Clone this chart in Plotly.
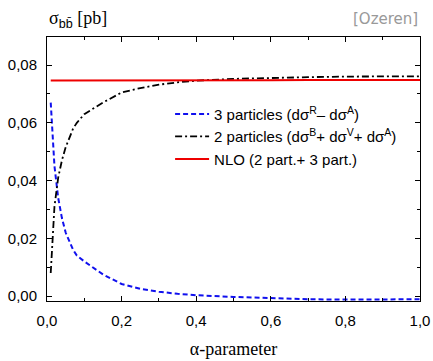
import plotly.graph_objects as go

alpha = [0.01, 0.015, 0.02, 0.03, 0.04, 0.05, 0.06, 0.07, 0.08, 0.1, 0.15, 0.2, 0.25, 0.3,
         0.35, 0.4, 0.5, 0.6, 0.7, 0.8, 0.9, 1.0]
three_part = [0.067, 0.055, 0.045, 0.034, 0.027, 0.022, 0.019, 0.016, 0.014, 0.012, 0.0075,
              0.0042, 0.0025, 0.0015, 0.0008, 0.0003, -0.0003, -0.0008, -0.0011, -0.0012,
              -0.0012, -0.0011]
two_part = [0.008, 0.022, 0.031, 0.041, 0.047, 0.0515, 0.055, 0.058, 0.060, 0.063, 0.067,
            0.0705, 0.072, 0.0732, 0.0740, 0.0746, 0.0752, 0.0756, 0.0758, 0.0760, 0.0760,
            0.0761]
nlo = [0.0746, 0.0746, 0.0747, 0.0745, 0.0747, 0.0746, 0.0745, 0.0747, 0.0746, 0.0746, 0.0746,
       0.0746, 0.0746, 0.0746, 0.0747, 0.0747, 0.0747, 0.0747, 0.0748, 0.0748, 0.0748, 0.0748]

names = ["3 particles (dσ<sup>R</sup>– dσ<sup>A</sup>)",
         "2 particles (dσ<sup>B</sup>+ dσ<sup>V</sup>+ dσ<sup>A</sup>)",
         "NLO (2 part.+ 3 part.)"]

fig = go.Figure()
fig.add_trace(go.Scatter(x=alpha, y=three_part, mode="lines", name=names[0],
                         line=dict(color="#1010ee", width=2, dash="5px,3px")))
fig.add_trace(go.Scatter(x=alpha, y=two_part, mode="lines", name=names[1],
                         line=dict(color="black", width=1.8, dash="7px,3px,2px,3px")))
fig.add_trace(go.Scatter(x=alpha, y=nlo, mode="lines", name=names[2],
                         line=dict(color="#ee0000", width=2)))

axis_common = dict(showline=True, linecolor="black", linewidth=1, mirror="ticks",
                   ticks="inside", ticklen=5, tickcolor="black", tickwidth=1,
                   showgrid=False, zeroline=False, automargin=False,
                   tickfont=dict(family="Liberation Sans, Arial", size=15, color="black"))

fig.update_layout(
    width=433, height=361,
    margin=dict(l=47, r=13, t=37, b=60),
    plot_bgcolor="white", paper_bgcolor="white",
    separators=",.",
    showlegend=True,
    legend=dict(x=0.33, y=0.77, xanchor="left", yanchor="top",
                bgcolor="rgba(0,0,0,0)", borderwidth=0,
                font=dict(family="Liberation Sans, Arial", size=15, color="black"),
                tracegroupgap=0, itemwidth=34),
    xaxis=dict(range=[0, 1], tickvals=[0, 0.2, 0.4, 0.6, 0.8, 1.0], tickformat=".1f",
               minor=dict(dtick=0.1, ticks="inside", ticklen=3, tickcolor="black"),
               ticklabelstandoff=6,
               title=dict(text="α-parameter",
                          font=dict(family="Liberation Serif, Times New Roman", size=18,
                                    color="black"), standoff=14),
               **axis_common),
    yaxis=dict(range=[-0.0017, 0.0897], tickvals=[0, 0.02, 0.04, 0.06, 0.08], tickformat=".2f",
               minor=dict(dtick=0.01, ticks="inside", ticklen=3, tickcolor="black"),
               ticklabelstandoff=6,
               **axis_common),
    annotations=[
        dict(text="σ<sub><span style='font-family:Liberation Sans'>bb̄</span></sub> [pb]",
             xref="paper", yref="paper", x=0.0, y=1.015, xanchor="left", yanchor="bottom",
             showarrow=False,
             font=dict(family="Liberation Serif, Times New Roman", size=18, color="black")),
        dict(text="[Ozeren]", xref="paper", yref="paper", x=1.0, y=1.025,
             xanchor="right", yanchor="bottom", showarrow=False,
             font=dict(family="DejaVu Sans", size=15, color="#999999")),
    ],
)

fig.write_html("out.html")
